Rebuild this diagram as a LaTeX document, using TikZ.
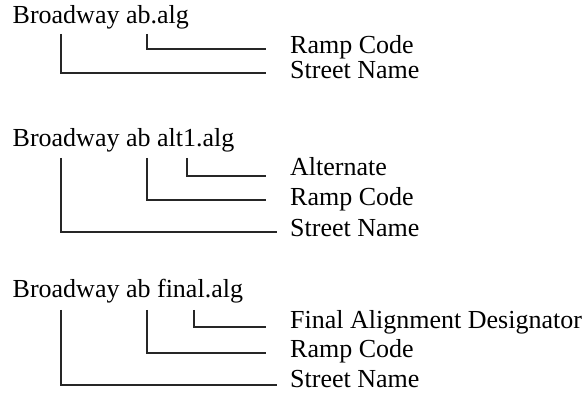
\documentclass[tikz,border=0pt]{standalone}
\usepackage{fontspec}
\setmainfont{Liberation Serif}
\begin{document}
\begin{tikzpicture}[x=1pt,y=-1pt,
  ttl/.style={anchor=base west,inner sep=0pt,font=\fontsize{26}{28}\selectfont},
  lbl/.style={anchor=base west,inner sep=0pt,font=\fontsize{26}{28}\selectfont},
  conn/.style={draw=black!85,line width=1.2pt}]
\useasboundingbox (0,0) rectangle (587,398);
% block 1
\node[ttl] (t1) at (12.5,24) {Broadway ab.alg};
\node[lbl] (r1) at (290,54) {Ramp Code};
\node[lbl] (s1) at (290,79) {Street Name};
\coordinate (t1a) at (61,34);
\coordinate (t1b) at (147,34);
\coordinate (e1b) at (266,49);
\coordinate (e1a) at (266,73);
\draw[conn] (t1b) |- (e1b);
\draw[conn] (t1a) |- (e1a);
% block 2
\node[ttl] (t2) at (12.5,147) {Broadway ab alt1.alg};
\node[lbl] (a2) at (290,176) {Alternate};
\node[lbl] (r2) at (290,206) {Ramp Code};
\node[lbl] (s2) at (290,237) {Street Name};
\coordinate (t2a) at (61,158);
\coordinate (t2b) at (147,158);
\coordinate (t2c) at (187,158);
\coordinate (e2c) at (266,176);
\coordinate (e2b) at (266,200);
\coordinate (e2a) at (277,232);
\draw[conn] (t2c) |- (e2c);
\draw[conn] (t2b) |- (e2b);
\draw[conn] (t2a) |- (e2a);
% block 3
\node[ttl] (t3) at (12.5,298) {Broadway ab final.alg};
\node[lbl] (f3) at (290,329) {Final Alignment Designator};
\node[lbl] (r3) at (290,358) {Ramp Code};
\node[lbl] (s3) at (290,388) {Street Name};
\coordinate (t3a) at (61,310);
\coordinate (t3b) at (147,310);
\coordinate (t3c) at (194,310);
\coordinate (e3c) at (266,327);
\coordinate (e3b) at (266,353);
\coordinate (e3a) at (277,385);
\draw[conn] (t3c) |- (e3c);
\draw[conn] (t3b) |- (e3b);
\draw[conn] (t3a) |- (e3a);
\end{tikzpicture}
\end{document}
